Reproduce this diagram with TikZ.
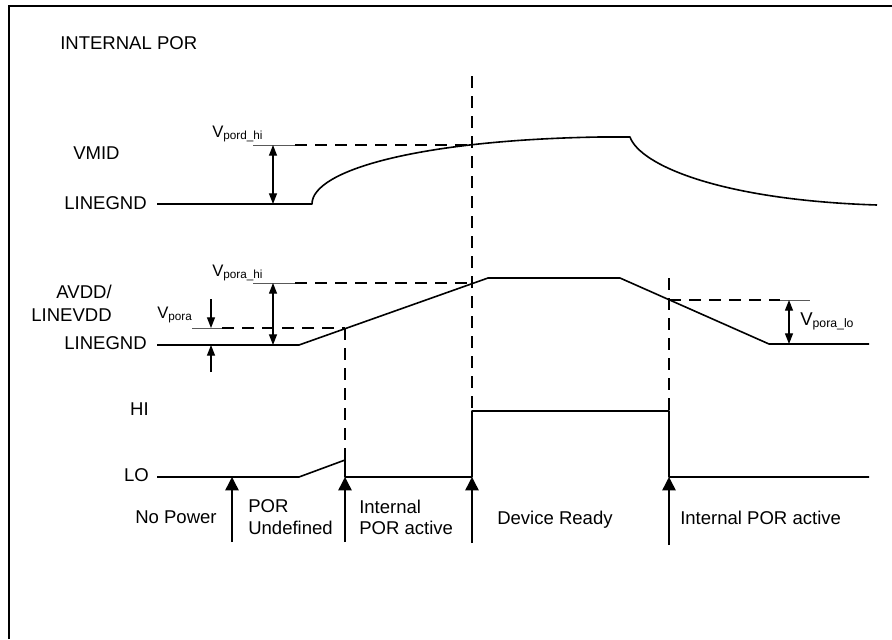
\documentclass[tikz,border=0pt]{standalone}
\usepackage{fontspec}
\setmainfont{Liberation Sans}
\usetikzlibrary{arrows.meta}
\newcommand\VlabS[1]{{\fontsize{12.5}{14}\selectfont V}\raisebox{-1.6pt}{\fontsize{8.8}{10}\selectfont #1}}
\newcommand\VlabL[1]{{\fontsize{13.9}{16}\selectfont V}\raisebox{-1.8pt}{\fontsize{9.2}{11}\selectfont #1}}
\begin{document}
\begin{tikzpicture}[x=0.75pt,y=-0.75pt,
  wave/.style={line width=1.2pt,line join=round},
  dsh/.style={line width=1.1pt,dash pattern=on 9pt off 6pt},
  refl/.style={line width=0.6pt,black!65},
  lbl/.style={inner sep=0pt,font=\fontsize{13.9}{16}\selectfont},
  sublbl/.style={inner sep=0pt},
  dimarrow/.style={line width=0.9pt,{Triangle[length=8pt,width=6pt]}-{Triangle[length=8pt,width=6pt]}},
  downarrow/.style={line width=0.9pt,-{Triangle[length=8pt,width=6pt]}},
  evtarrow/.style={line width=1.1pt,-{Triangle[length=10pt,width=10pt]}}
]
\useasboundingbox (0,0) rectangle (892,639);
% frame
\draw[line width=1.8pt] (9,639) -- (9,6) -- (892,6);

% ---------- labels ----------
\node[lbl,anchor=base west] (title) at (60,49) {INTERNAL POR};
\node[lbl,anchor=base west] (vmid) at (73,159) {VMID};
\node[lbl,anchor=base east] (gnd1) at (147,209) {LINEGND};
\node[lbl,anchor=base east] (avdd) at (112,298) {AVDD/};
\node[lbl,anchor=base east] (lvdd) at (112,321) {LINEVDD};
\node[lbl,anchor=base east] (gnd2) at (147,349) {LINEGND};
\node[lbl,anchor=base east] (hi) at (149,415) {HI};
\node[lbl,anchor=base east] (lo) at (149,481) {LO};

\node[sublbl,anchor=base west] (vpordhi) at (212,137) {\VlabS{pord\_hi}};
\node[sublbl,anchor=base west] (vporahi) at (212,276) {\VlabS{pora\_hi}};
\node[sublbl,anchor=base west] (vpora) at (157,318) {\VlabS{pora}};
\node[sublbl,anchor=base west] (vporalo) at (800,325) {\VlabL{pora\_lo}};

\node[lbl,anchor=base west] (nopower) at (135,523) {No Power};
\node[lbl,anchor=base west] (porund) at (248,512) {POR};
\node[lbl,anchor=base west] (porund2) at (248,534) {Undefined};
\node[lbl,anchor=base west] (intpor1) at (359,513) {Internal};
\node[lbl,anchor=base west] (intpor2) at (359,534) {POR active};
\node[lbl,anchor=base west] (ready) at (497,524) {Device Ready};
\node[lbl,anchor=base west] (intpor3) at (680,524) {Internal POR active};

% ---------- VMID waveform ----------
\draw[wave] (157,204) -- (312,204) .. controls (312,170) and (420,140) .. (600,137)
  -- (630,137) .. controls (640,165) and (720,200) .. (877,205);
% Vpord_hi reference
\draw[refl] (253,145) -- (295,145);
\draw[dsh] (295,145) -- (472,145);
\coordinate (pdtop) at (273,145);
\coordinate (pdbot) at (273,204);
\draw[dimarrow] (pdtop) -- (pdbot);

% ---------- AVDD waveform ----------
\draw[wave] (157,345) -- (299,345) -- (488,278) -- (620,278) -- (769,344) -- (869,344);
% Vpora_hi
\draw[refl] (253,283) -- (295,283);
\draw[dsh] (295,283) -- (472,283);
\coordinate (phtop) at (273,283);
\coordinate (phbot) at (273,345);
\draw[dimarrow] (phtop) -- (phbot);
% Vpora
\draw[refl] (192,328) -- (222,328);
\draw[dsh] (222,328) -- (345,328);
\coordinate (pa1) at (211,299);
\coordinate (pa2) at (211,328);
\coordinate (pa3) at (211,372);
\coordinate (pa4) at (211,345);
\draw[downarrow] (pa1) -- (pa2);
\draw[downarrow] (pa3) -- (pa4);
% Vpora_lo
\draw[dsh] (669,300) -- (780,300);
\draw[refl] (780,300) -- (810,300);
\coordinate (plotop) at (789,300);
\coordinate (plobot) at (789,344);
\draw[dimarrow] (plotop) -- (plobot);

% ---------- vertical markers ----------
\draw[dsh] (472,76) -- (472,411);
\draw[dsh] (669,278) -- (669,411);
\draw[dsh] (345,328) -- (345,460);

% ---------- POR output ----------
\draw[wave] (157,477) -- (299,477) -- (345,460) -- (345,477) -- (472,477)
  -- (472,411) -- (669,411) -- (669,477) -- (869,477);

% ---------- event arrows ----------
\coordinate (e1a) at (232,542); \coordinate (e1b) at (232,477);
\coordinate (e2a) at (345,542); \coordinate (e2b) at (345,477);
\coordinate (e3a) at (472,543); \coordinate (e3b) at (472,477);
\coordinate (e4a) at (669,545); \coordinate (e4b) at (669,477);
\draw[evtarrow] (e1a) -- (e1b);
\draw[evtarrow] (e2a) -- (e2b);
\draw[evtarrow] (e3a) -- (e3b);
\draw[evtarrow] (e4a) -- (e4b);
\end{tikzpicture}
\end{document}
